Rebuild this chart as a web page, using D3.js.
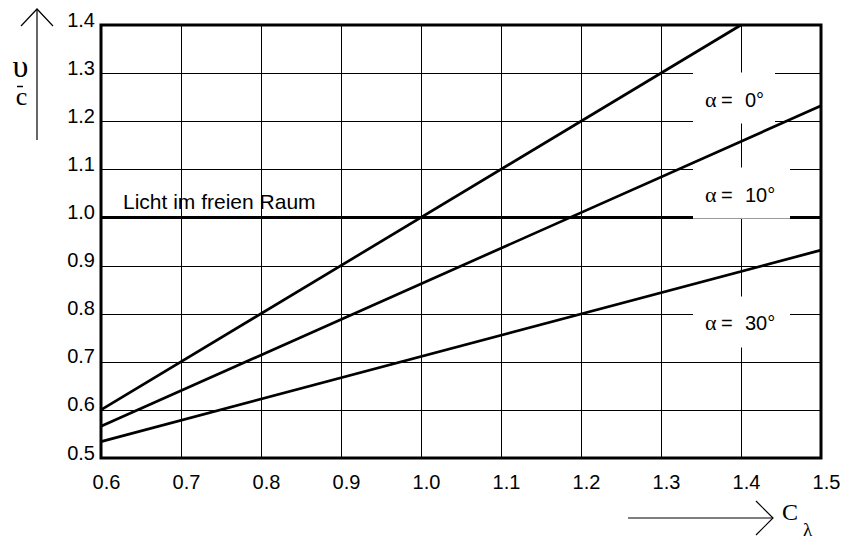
<!DOCTYPE html>
<html>
<head>
<meta charset="utf-8">
<script src="https://cdn.jsdelivr.net/npm/d3@7"></script>
<style>
  html, body { margin: 0; padding: 0; background: #fff; }
  svg { display: block; }
  text { font-family: "Liberation Sans", Arial, sans-serif; fill: #000; }
  .serif { font-family: "Liberation Serif", "Times New Roman", serif; }
</style>
</head>
<body>
<svg id="chart" width="844" height="540"></svg>
<script>
// Phase velocity ratio v/c against C_lambda for several angles
const xTicks = [0.6, 0.7, 0.8, 0.9, 1.0, 1.1, 1.2, 1.3, 1.4, 1.5];
const yTicks = [0.5, 0.6, 0.7, 0.8, 0.9, 1.0, 1.1, 1.2, 1.3, 1.4];
const xTickLabels = ["0.6", "0.7", "0.8", "0.9", "1.0", "1.1", "1.2", "1.3", "1.4", "1.5"];
const yTickLabels = ["0.5", "0.6", "0.7", "0.8", "0.9", "1.0", "1.1", "1.2", "1.3", "1.4"];

const seriesNames = ["0°", "10°", "30°"];
const alpha0  = [[0.6, 0.600], [1.4, 1.400]];
const alpha10 = [[0.6, 0.566], [1.5, 1.232]];
const alpha30 = [[0.6, 0.534], [1.5, 0.932]];

const freeSpaceLabel = "Licht im freien Raum";
const freeSpaceValue = 1.0;

const svg = d3.select("#chart");
const plotLeft = 101, plotRight = 821, plotTop = 25, plotBottom = 458;

const x = d3.scaleLinear().domain([0.6, 1.5]).range([plotLeft, plotRight]);
const y = d3.scaleLinear().domain([0.5, 1.4]).range([plotBottom, plotTop]);

// grid
const grid = svg.append("g");
grid.selectAll("line.v").data(xTicks.slice(1, -1)).join("line")
  .attr("x1", d => Math.round(x(d)) + 0.5).attr("x2", d => Math.round(x(d)) + 0.5)
  .attr("y1", plotTop).attr("y2", plotBottom)
  .attr("stroke", "#000").attr("stroke-width", 1);
grid.selectAll("line.h").data(yTicks.slice(1, -1)).join("line")
  .attr("x1", plotLeft).attr("x2", plotRight)
  .attr("y1", d => Math.round(y(d)) + 0.5).attr("y2", d => Math.round(y(d)) + 0.5)
  .attr("stroke", "#000").attr("stroke-width", 1);

// free-space reference line
svg.append("line")
  .attr("x1", plotLeft).attr("x2", plotRight)
  .attr("y1", y(freeSpaceValue)).attr("y2", y(freeSpaceValue))
  .attr("stroke", "#000").attr("stroke-width", 3);

svg.append("text")
  .attr("x", 123).attr("y", 209)
  .attr("font-size", 21)
  .text(freeSpaceLabel);

// label backgrounds
const boxes = [
  { x0: 693, x1: 775, y0: 72.5, y1: 123.5 },
  { x0: 693, x1: 790, y0: 167.5, y1: 218.6 },
  { x0: 693, x1: 790, y0: 296.5, y1: 347.5 }
];
svg.selectAll("rect.bg").data(boxes).join("rect")
  .attr("x", d => d.x0).attr("y", d => d.y0)
  .attr("width", d => d.x1 - d.x0).attr("height", d => d.y1 - d.y0)
  .attr("fill", "#fff");

// series lines
const line = d3.line().x(d => x(d[0])).y(d => y(d[1]));
svg.selectAll("path.series").data([alpha0, alpha10, alpha30]).join("path")
  .attr("d", line)
  .attr("fill", "none").attr("stroke", "#000").attr("stroke-width", 2.7);

// series labels
const labelBaselines = [107, 202, 330];
const lab = svg.selectAll("g.lab").data(seriesNames).join("g");
lab.append("text")
  .attr("class", "serif")
  .attr("x", 705).attr("y", (d, i) => labelBaselines[i])
  .attr("font-size", 22)
  .text("α");
lab.append("text")
  .attr("x", 721).attr("y", (d, i) => labelBaselines[i])
  .attr("font-size", 20)
  .text("=");
lab.append("text")
  .attr("x", 745).attr("y", (d, i) => labelBaselines[i])
  .attr("font-size", 20)
  .text(d => d);

// frame
svg.append("rect")
  .attr("x", plotLeft).attr("y", plotTop)
  .attr("width", plotRight - plotLeft).attr("height", plotBottom - plotTop)
  .attr("fill", "none").attr("stroke", "#000").attr("stroke-width", 3);

// axes (labels only)
const xAxis = d3.axisBottom(x).tickValues(xTicks)
  .tickFormat((d, i) => xTickLabels[i]).tickSize(0);
const gx = svg.append("g").attr("transform", `translate(0,${plotBottom})`).call(xAxis);
gx.select(".domain").remove();
gx.selectAll("text")
  .attr("y", 31).attr("dy", null).attr("dx", 5)
  .attr("font-size", 20).attr("font-family", null).attr("fill", "#000");

const yAxis = d3.axisLeft(y).tickValues(yTicks)
  .tickFormat((d, i) => yTickLabels[i]).tickSize(0);
const gy = svg.append("g").attr("transform", `translate(${plotLeft},0)`).call(yAxis);
gy.select(".domain").remove();
gy.selectAll("text")
  .attr("x", -6).attr("dy", "0.05em")
  .attr("font-size", 20).attr("font-family", null).attr("fill", "#000");

// y-axis title: v over c with upward arrow
const arrows = svg.append("g").attr("stroke", "#000").attr("stroke-width", 1.2).attr("fill", "none");
arrows.append("line").attr("x1", 37).attr("x2", 37).attr("y1", 9).attr("y2", 140);
arrows.append("polyline").attr("points", "21,26 37,9 53,26");
svg.append("text").attr("class", "serif")
  .attr("x", 20.5).attr("y", 77).attr("text-anchor", "middle")
  .attr("font-size", 32).text("υ");
svg.append("line").attr("x1", 17).attr("x2", 23).attr("y1", 86.5).attr("y2", 86.5)
  .attr("stroke", "#000").attr("stroke-width", 1.5);
svg.append("text").attr("class", "serif")
  .attr("x", 21.5).attr("y", 105).attr("text-anchor", "middle")
  .attr("font-size", 26).text("c");

// x-axis title: C_lambda with right arrow
arrows.append("line").attr("x1", 628).attr("x2", 773).attr("y1", 518).attr("y2", 518);
arrows.append("polyline").attr("points", "756,501 773,518 756,535");
svg.append("text").attr("class", "serif")
  .attr("x", 782).attr("y", 520)
  .attr("font-size", 24).text("C");
svg.append("text").attr("class", "serif")
  .attr("x", 803).attr("y", 536)
  .attr("font-size", 19).text("λ");
</script>
</body>
</html>
